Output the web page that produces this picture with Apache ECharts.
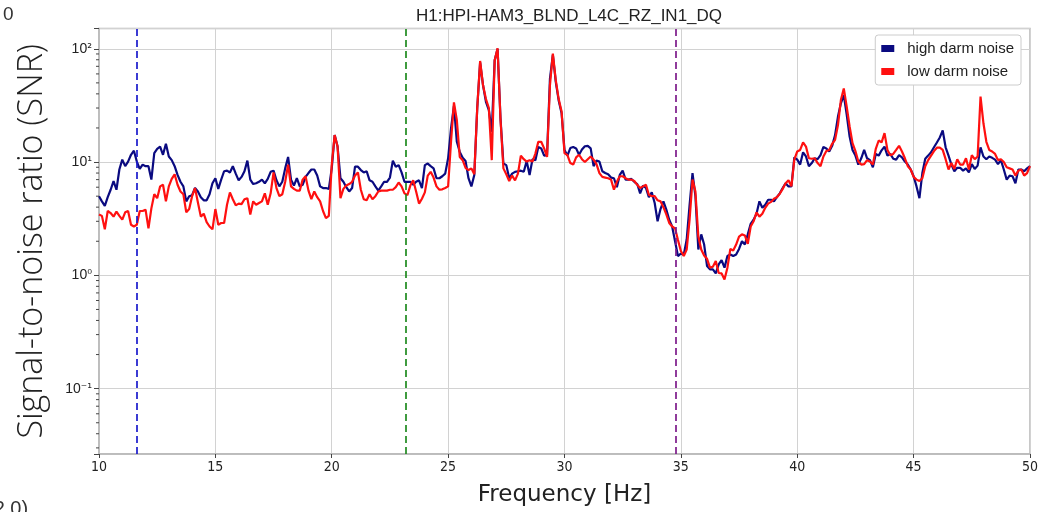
<!DOCTYPE html>
<html>
<head>
<meta charset="utf-8">
<script src="https://cdn.jsdelivr.net/npm/echarts@6/dist/echarts.min.js"></script>
<style>
  html, body { margin: 0; padding: 0; background: #ffffff; }
  #chart { width: 1041px; height: 512px; }
</style>
</head>
<body>
<div id="chart"></div>
<script>
// Channel SNR spectra, sampled every 0.125 Hz from 10 Hz to 50 Hz
const TITLE = 'H1:HPI-HAM3_BLND_L4C_RZ_IN1_DQ';
const SERIES_NAMES = ['high darm noise', 'low darm noise'];
const X_LABEL = 'Frequency [Hz]';
const Y_LABEL = 'Signal-to-noise ratio (SNR)';
const F_START = 10;
const F_STEP = 0.125;

const HIGH_DARM = [
  5.0, 4.5, 4.1, 4.9, 5.7, 6.8, 5.7, 8.6,
  10.5, 9.2, 10.1, 11.6, 12.6, 10.1, 8.7, 9.5,
  9.2, 9.2, 7.0, 12.0, 13.1, 13.7, 11.6, 14.5,
  11.2, 10.4, 9.2, 7.7, 6.7, 6.1, 4.5, 5.0,
  5.1, 5.9, 5.5, 4.9, 4.6, 4.6, 5.2, 6.5,
  7.2, 5.8, 7.0, 8.3, 8.4, 8.1, 9.2, 7.9,
  6.9, 7.4, 8.3, 10.3, 7.0, 6.4, 6.5, 6.7,
  7.0, 6.5, 7.1, 8.2, 8.4, 6.9, 6.1, 6.7,
  8.8, 11.1, 7.0, 6.2, 7.2, 6.1, 6.3, 7.4,
  8.0, 8.6, 8.6, 7.6, 6.1, 5.9, 5.9, 5.8,
  8.8, 17.3, 13.7, 7.2, 6.7, 6.0, 5.5, 5.9,
  9.1, 9.1, 8.5, 8.1, 8.3, 6.9, 6.7, 6.1,
  5.6, 6.1, 6.7, 6.7, 7.3, 10.3, 9.1, 9.4,
  8.1, 6.7, 6.7, 6.7, 6.3, 6.7, 6.9, 5.9,
  9.4, 9.7, 9.2, 8.8, 7.2, 7.2, 7.5, 7.9,
  10.8, 19.8, 31.3, 15.1, 12.3, 10.9, 10.2, 7.2,
  6.1, 7.7, 29.7, 76, 47.6, 34, 28.7, 18.5,
  79, 100, 24.3, 9.7, 9.4, 7.2, 7.9, 8.2,
  8.3, 8.4, 8.2, 10.2, 7.7, 10.6, 10.4, 13.6,
  13.2, 11.4, 11.5, 54.5, 88.5, 51, 35, 27,
  12.8, 11.4, 13.3, 13.6, 13.2, 11.6, 12.9, 13.8,
  13.9, 13.2, 9.2, 10.3, 10.1, 8.3, 8.0, 7.8,
  7.3, 7.2, 6.0, 7.7, 8.4, 7.0, 7.0, 7.1,
  6.7, 6.4, 5.3, 6.2, 5.9, 4.9, 5.4, 4.35,
  3.0, 3.85, 4.5, 3.8, 3.1, 2.7, 2.0, 1.48,
  1.56, 1.52, 2.07, 4.2, 8.0, 5.0, 1.69, 2.3,
  1.87, 1.21, 1.13, 1.13, 1.04, 1.25, 1.36, 1.17,
  1.48, 1.53, 1.48, 1.53, 1.71, 2.0, 1.87, 2.3,
  2.85, 3.1, 3.5, 4.5, 3.95, 4.2, 4.65, 4.65,
  4.5, 4.9, 5.3, 5.9, 6.5, 6.1, 6.1, 11.0,
  10.5, 9.5, 12.2, 11.2, 9.2, 9.8, 10.8, 10.6,
  11.5, 13.6, 13.2, 12.4, 13.9, 17.3, 25.2, 33,
  39, 26.2, 16.8, 12.8, 11.4, 9.5, 10.8, 12.8,
  10.8, 10.4, 9.0, 11.8, 11.4, 12.7, 13.7, 11.4,
  11.8, 10.7, 10.5, 11.5, 11.0, 10.1, 9.5, 8.6,
  7.5, 6.1, 4.8, 8.0, 10.7, 11.4, 12.2, 13.5,
  14.9, 16.5, 19.0, 13.5, 11.4, 9.5, 8.3, 8.9,
  8.9, 8.4, 8.8, 8.1, 9.6, 8.7, 9.3, 13.5,
  11.2, 10.6, 11.2, 10.9, 10.5, 9.6, 10.4, 8.6,
  7.0, 7.6, 7.5, 6.5, 8.6, 8.6, 8.3, 8.8,
  9.2
];

const LOW_DARM = [
  3.45, 3.35, 2.55, 3.7, 3.55, 3.3, 3.65, 3.35,
  3.1, 3.6, 3.7, 2.8, 2.7, 2.8, 3.7, 3.7,
  3.8, 2.6, 3.9, 5.2, 4.8, 6.1, 6.3, 4.5,
  6.1, 7.1, 7.8, 6.3, 5.5, 5.2, 3.6, 3.85,
  5.0, 5.9, 4.4, 3.3, 3.5, 2.95, 2.7, 2.55,
  3.85, 2.8, 2.9, 2.9, 4.2, 5.4, 4.7, 4.15,
  4.3, 4.25, 4.7, 4.8, 3.45, 4.5, 4.2, 4.35,
  4.5, 5.3, 4.2, 5.3, 8.1, 5.9, 5.0, 5.2,
  6.7, 9.5, 6.1, 5.8, 5.6, 5.6, 7.0, 7.5,
  5.6, 4.7, 5.5, 4.9, 4.5, 3.7, 3.2, 3.35,
  9.5, 17.3, 13.7, 4.8, 5.8, 6.2, 6.4, 6.7,
  7.6, 8.1, 5.7, 4.7, 4.6, 5.2, 4.7, 5.0,
  5.5, 5.6, 5.6, 5.6, 5.7, 5.7, 6.0, 6.6,
  6.1, 5.3, 5.1, 6.2, 6.9, 5.5, 4.3, 4.75,
  5.4, 7.6, 8.2, 7.3, 6.1, 5.7, 5.75, 5.9,
  6.1, 15.1, 33.6, 23.4, 11.1, 10.4, 8.9, 8.5,
  8.8, 7.8, 29.7, 78, 47.6, 36, 30, 10.4,
  79, 101, 24, 8.8, 7.8, 6.8, 7.6, 6.9,
  7.9, 11.4, 10.6, 10.1, 10.4, 10.1, 11.9, 15.1,
  15.1, 13.2, 11.1, 47.6, 90.6, 52.8, 36, 28,
  12.0, 11.5, 9.8, 9.5, 11.0, 11.6, 10.6, 10.0,
  10.6, 11.2, 10.5, 9.6, 8.0, 7.4, 7.3, 7.2,
  7.0, 5.7, 6.7, 7.5, 7.5, 7.2, 7.0, 7.0,
  6.8, 6.3, 5.9, 6.1, 6.3, 5.15, 5.0, 5.0,
  4.6, 4.5, 4.0, 3.45, 2.9, 2.7, 2.6, 2.05,
  1.64, 1.48, 1.69, 3.1, 7.0, 5.5, 2.2, 1.69,
  1.5, 1.4, 1.17, 1.19, 1.34, 1.05, 1.04, 0.92,
  1.17, 1.71, 1.66, 1.87, 2.2, 2.3, 2.25, 1.9,
  2.7, 3.0, 3.6, 3.3, 3.5, 3.95, 4.3, 4.45,
  4.75, 4.9, 5.25, 5.8, 6.5, 6.9, 6.1, 10.5,
  12.4, 12.8, 14.9, 13.7, 10.8, 10.7, 10.8, 9.8,
  9.2, 11.2, 12.5, 12.8, 14.5, 15.7, 21.2, 35.3,
  44.7, 30.8, 20.6, 14.7, 12.5, 10.1, 9.5, 9.6,
  10.4, 10.1, 9.5, 13.1, 15.5, 14.9, 18.0, 12.8,
  11.5, 11.8, 12.8, 13.9, 12.4, 10.8, 9.2, 8.6,
  7.4, 7.0, 6.8, 7.2, 9.2, 10.4, 11.4, 12.5,
  13.4, 13.4, 12.8, 10.6, 8.6, 9.8, 8.7, 10.6,
  9.5, 9.5, 10.8, 8.6, 11.5, 10.6, 11.2, 37.8,
  22, 15.1, 12.8, 12.4, 11.8, 10.4, 10.6, 10.0,
  9.0, 8.8, 8.6, 7.6, 8.4, 8.6, 7.6, 8.0,
  9.2
];

// Reference frequencies marked with dashed vertical lines
const MARKER_FREQS = [11.61, 23.19, 34.79];
const MARKER_COLORS = ['#1a1acc', '#1f8a1f', '#7d1a8a'];

const X_MIN = 10, X_MAX = 50, X_INTERVAL = 5;
const Y_MIN = 0.0265, Y_MAX = 151;

const toPairs = (vals) => vals.map((v, i) => [F_START + i * F_STEP, v]);

// log-axis minor ticks (2..9 within each decade)
const Y_MINOR = [];
for (let e = -2; e <= 2; e++) {
  for (let m = 2; m <= 9; m++) {
    const v = m * Math.pow(10, e);
    if (v > Y_MIN && v < Y_MAX) Y_MINOR.push(v);
  }
}

const SUP = { '-': '\u207B', '0': '\u2070', '1': '\u00B9', '2': '\u00B2', '3': '\u00B3' };

const chart = echarts.init(document.getElementById('chart'), null, { renderer: 'canvas' });

const option = {
  animation: false,
  backgroundColor: '#ffffff',
  title: {
    text: TITLE,
    left: 564, top: 3, textAlign: 'center',
    textStyle: { fontFamily: 'Liberation Sans', fontSize: 17, fontWeight: 'normal', color: '#222' }
  },
  legend: {
    data: SERIES_NAMES,
    orient: 'vertical',
    right: 20, top: 35,
    icon: 'rect', itemWidth: 13, itemHeight: 7, itemGap: 8,
    backgroundColor: '#ffffff',
    borderColor: '#cccccc', borderWidth: 1, borderRadius: 3,
    padding: [6, 7, 6, 6],
    textStyle: { fontFamily: 'Liberation Sans', fontSize: 15, color: '#222', padding: [0, 0, 0, 8] }
  },
  grid: {
    left: 99, right: 11, top: 28.5, bottom: 57,
    show: true, borderColor: '#b8b8b8', borderWidth: 1.5
  },
  xAxis: {
    type: 'value', min: X_MIN, max: X_MAX, interval: X_INTERVAL,
    name: X_LABEL, nameLocation: 'middle', nameGap: 30,
    nameTextStyle: { fontFamily: 'DejaVu Sans', fontSize: 23, color: '#222' },
    axisLine: { show: true, lineStyle: { color: '#b8b8b8', width: 1.5 } },
    axisTick: { show: true, length: 4, lineStyle: { color: '#444' } },
    axisLabel: { fontFamily: 'DejaVu Sans Condensed, DejaVu Sans', fontSize: 14, color: '#222', margin: 6 },
    splitLine: { show: true, lineStyle: { color: '#d2d2d2', width: 1 } }
  },
  yAxis: {
    type: 'log', logBase: 10, min: Y_MIN, max: Y_MAX, splitNumber: 3,
    name: Y_LABEL, nameLocation: 'middle', nameGap: 50, nameRotate: 90,
    nameTextStyle: { fontFamily: 'Open Sans', fontWeight: 300, fontSize: 34, color: '#222' },
    axisLine: { show: true, lineStyle: { color: '#b8b8b8', width: 1.5 } },
    axisTick: { show: true, length: 5, lineStyle: { color: '#444' } },
    axisLabel: {
      margin: 7,
      formatter: (val) => {
        const e = Math.log10(val);
        const r = Math.round(e);
        if (Math.abs(e - r) > 1e-6) return '';
        const sup = String(r).split('').map(c => SUP[c]).join('');
        return '{b|10}{s|' + sup + '}';
      },
      rich: {
        b: { fontFamily: 'Liberation Sans', fontSize: 14, color: '#222' },
        s: { fontFamily: 'DejaVu Sans', fontSize: 12, color: '#222' }
      }
    },
    splitLine: { show: true, lineStyle: { color: '#d2d2d2', width: 1 } }
  },
  series: [
    {
      name: SERIES_NAMES[0], type: 'line', data: toPairs(HIGH_DARM),
      showSymbol: false, symbol: 'none', smooth: false,
      color: '#0a0a80',
      lineStyle: { color: '#0a0a80', width: 2.2 }, z: 3
    },
    {
      name: SERIES_NAMES[1], type: 'line', data: toPairs(LOW_DARM),
      showSymbol: false, symbol: 'none', smooth: false,
      color: '#ff1010',
      lineStyle: { color: '#ff1010', width: 2.2 }, z: 4,
      markLine: {
        silent: true, symbol: 'none', label: { show: false },
        data: MARKER_FREQS.map((f, i) => ({
          xAxis: f,
          lineStyle: { color: MARKER_COLORS[i], width: 1.7, type: [7, 4] }
        }))
      }
    },
    {
      name: 'minor-ticks', type: 'custom', silent: true, clip: false, z: 6,
      data: Y_MINOR.map(v => [X_MIN, v]),
      encode: { x: 0, y: 1 },
      renderItem: (params, api) => {
        const p = api.coord([api.value(0), api.value(1)]);
        return {
          type: 'line',
          shape: { x1: p[0] - 3, y1: p[1], x2: p[0], y2: p[1] },
          style: { stroke: '#444', lineWidth: 1 }
        };
      }
    }
  ],
  graphic: [
    { type: 'text', left: 3, top: 5, style: { text: '0', font: '19px "Liberation Sans"', fill: '#333' } },
    { type: 'text', left: -13, top: 499, style: { text: '(2,0)', font: '20px "Liberation Sans"', fill: '#333' } }
  ]
};

chart.setOption(option);
</script>
</body>
</html>
